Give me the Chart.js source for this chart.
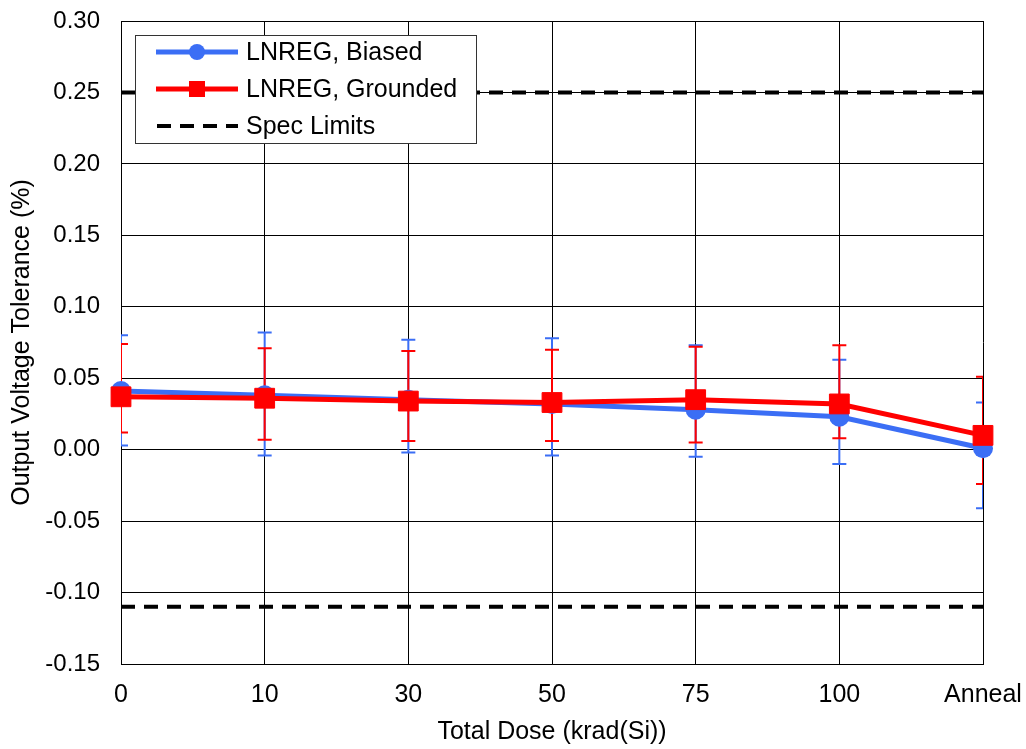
<!DOCTYPE html>
<html>
<head>
<meta charset="utf-8">
<script src="https://cdn.jsdelivr.net/npm/chart.js@4"></script>
<style>
  html, body { margin: 0; padding: 0; background: #fff; }
  #wrap { width: 1026px; height: 749px; }
</style>
</head>
<body>
<div id="wrap"><canvas id="c" width="1026" height="749"></canvas></div>
<script>
// Values
const doses = ['0', '10', '30', '50', '75', '100', 'Anneal'];
const biased = [0.041, 0.038, 0.035, 0.032, 0.028, 0.023, 0.001];
const biasedHi = [0.080, 0.082, 0.077, 0.078, 0.073, 0.063, 0.033];
const biasedLo = [0.003, -0.004, -0.002, -0.004, -0.005, -0.010, -0.041];
const grounded = [0.037, 0.036, 0.034, 0.033, 0.035, 0.032, 0.010];
const groundedHi = [0.074, 0.071, 0.069, 0.070, 0.072, 0.073, 0.051];
const groundedLo = [0.012, 0.007, 0.006, 0.006, 0.005, 0.008, -0.024];
const specHigh = [0.25, 0.25, 0.25, 0.25, 0.25, 0.25, 0.25];
const specLow = [-0.11, -0.11, -0.11, -0.11, -0.11, -0.11, -0.11];

const BLUE = '#3b6ef5';
const RED = '#ff0000';
const FONT = "'Liberation Sans', Arial, sans-serif";

// error bars, clipped to the plot area, drawn under the lines
const errorBars = {
    id: 'errorBars',
    beforeDatasetsDraw(chart) {
        const ctx = chart.ctx, x = chart.scales.x, y = chart.scales.y, a = chart.chartArea;
        const sets = [[biasedHi, biasedLo, BLUE], [groundedHi, groundedLo, RED]];
        ctx.save();
        ctx.beginPath();
        ctx.rect(a.left, a.top, a.right - a.left, a.bottom - a.top);
        ctx.clip();
        ctx.lineWidth = 2;
        sets.forEach(([hi, lo, col]) => {
            ctx.strokeStyle = col;
            hi.forEach((h, i) => {
                const px = x.getPixelForValue(i);
                const yh = y.getPixelForValue(h), yl = y.getPixelForValue(lo[i]);
                ctx.beginPath();
                ctx.moveTo(px, yh); ctx.lineTo(px, yl);
                ctx.moveTo(px - 7, yh); ctx.lineTo(px + 7, yh);
                ctx.moveTo(px - 7, yl); ctx.lineTo(px + 7, yl);
                ctx.stroke();
            });
        });
        ctx.restore();
    }
};

// boxed legend in the upper left of the plot
const boxLegend = {
    id: 'boxLegend',
    afterDraw(chart) {
        const ctx = chart.ctx;
        const L = 135, T = 35, W = 341, H = 108;
        ctx.save();
        ctx.fillStyle = '#fff';
        ctx.fillRect(L, T, W, H);
        ctx.strokeStyle = '#333';
        ctx.lineWidth = 1;
        ctx.strokeRect(L + 0.5, T + 0.5, W, H);
        const rows = [
            ['LNREG, Biased', BLUE, 'circle'],
            ['LNREG, Grounded', RED, 'rect'],
            ['Spec Limits', '#000', 'dash']
        ];
        ctx.font = '25px ' + FONT;
        ctx.textBaseline = 'middle';
        rows.forEach(([label, col, kind], i) => {
            const cy = 52 + i * 37;
            ctx.strokeStyle = col;
            ctx.fillStyle = col;
            ctx.lineWidth = kind === 'dash' ? 4 : 5;
            ctx.setLineDash(kind === 'dash' ? [14, 9] : []);
            ctx.beginPath();
            ctx.moveTo(kind === 'dash' ? 157 : 156, cy);
            ctx.lineTo(238, cy);
            ctx.stroke();
            ctx.setLineDash([]);
            if (kind === 'circle') {
                ctx.beginPath(); ctx.arc(197, cy, 8, 0, Math.PI * 2); ctx.fill();
            } else if (kind === 'rect') {
                ctx.fillRect(189, cy - 8, 16, 16);
            }
            ctx.fillStyle = '#000';
            ctx.fillText(label, 246, cy + 1);
        });
        ctx.restore();
    }
};

new Chart(document.getElementById('c'), {
    type: 'line',
    data: {
        labels: doses,
        datasets: [
            {
                label: 'Spec Limits', data: specHigh, borderColor: '#000', borderWidth: 4,
                borderDash: [14, 9], pointRadius: 0, order: 3
            },
            {
                label: 'Spec Limits low', data: specLow, borderColor: '#000', borderWidth: 4,
                borderDash: [14, 9], pointRadius: 0, order: 3
            },
            {
                label: 'LNREG, Biased', data: biased, borderColor: BLUE, backgroundColor: BLUE,
                borderWidth: 5, pointStyle: 'circle', pointRadius: 10, pointBorderWidth: 0, order: 2
            },
            {
                label: 'LNREG, Grounded', data: grounded, borderColor: RED, backgroundColor: RED,
                borderWidth: 5, pointStyle: 'rect', pointRadius: 14, pointBorderWidth: 1, order: 1
            }
        ]
    },
    options: {
        responsive: false,
        animation: false,
        layout: { padding: { top: 21, right: 43, left: 0, bottom: 0 } },
        scales: {
            x: {
                offset: false,
                grid: { color: '#000', lineWidth: 1, drawTicks: false },
                border: { color: '#000', width: 1 },
                ticks: { color: '#000', font: { size: 25, family: FONT }, padding: 16, maxRotation: 0 },
                title: { display: true, text: 'Total Dose (krad(Si))', color: '#000', font: { size: 25, family: FONT }, padding: { top: 4, bottom: 2 } },
                afterFit: s => { s.height = 85; s.paddingLeft = 0; s.paddingRight = 0; }
            },
            y: {
                min: -0.15, max: 0.30,
                grid: { color: '#000', lineWidth: 1, drawTicks: false },
                border: { color: '#000', width: 1 },
                ticks: {
                    stepSize: 0.05, color: '#000', font: { size: 24, family: FONT }, padding: 21,
                    callback: v => v.toFixed(2)
                },
                title: { display: true, text: 'Output Voltage Tolerance (%)', color: '#000', font: { size: 25, family: FONT }, padding: { top: 7, bottom: 4 } },
                afterFit: s => { s.width = 121; s.paddingTop = 0; s.paddingBottom = 0; }
            }
        },
        plugins: {
            legend: { display: false },
            tooltip: { enabled: false }
        }
    },
    plugins: [errorBars, boxLegend]
});
</script>
</body>
</html>
